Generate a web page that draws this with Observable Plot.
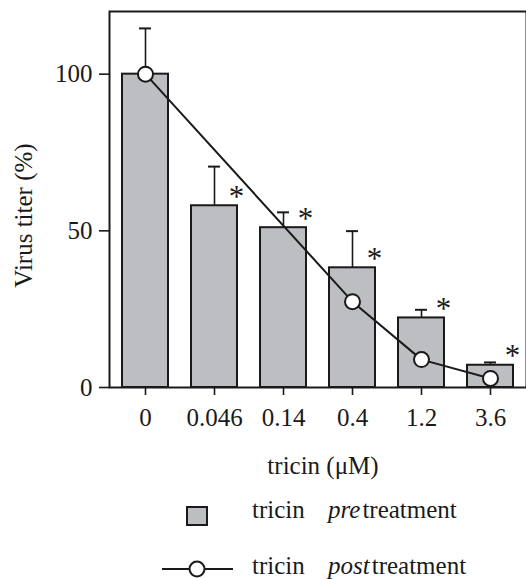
<!DOCTYPE html>
<html><head><meta charset="utf-8">
<script src="https://cdn.jsdelivr.net/npm/d3@7"></script>
<script src="https://cdn.jsdelivr.net/npm/@observablehq/plot@0.6"></script>
<style>
body{margin:0;background:#fff;font-family:"Liberation Serif","Times New Roman",serif;color:#1a1a1a;}
#chart svg{display:block;}
</style></head><body><div id="chart"></div><div id="legend"></div><script>
const concentrations = ["0","0.046","0.14","0.4","1.2","3.6"];
const preValues = [100,58,51,38.2,22.2,7.1];
const preErrorUpper = [114.6,70.5,55.9,49.9,24.8,8.0];
const significant = [false,true,true,true,true,true];
const postConcentrations = ["0","0.4","1.2","3.6"];
const postValues = [100,27.4,8.9,2.9];
const yTicks = [0,50,100];
const yLabel = "Virus titer (%)";
const xLabel = "tricin (\u03bcM)";

const pre = concentrations.map((c,i)=>({c, v:preValues[i], err:preErrorUpper[i], sig:significant[i]}));
const post = postConcentrations.map((c,i)=>({c, v:postValues[i]}));
const ink = "#1a1a1a";
const barFill = "#bdbec2";
const serif = "'Liberation Serif','Times New Roman',serif";

const chart = Plot.plot({
  width: 526, height: 487,
  marginLeft: 109, marginRight: 0, marginTop: 11, marginBottom: 100,
  style: {fontFamily: serif, color: ink, background: "white"},
  x: {type: "band", domain: concentrations, paddingInner: 0.34, paddingOuter: 0.17, axis: null},
  y: {domain: [0, 120], axis: null},
  marks: [
    Plot.ruleX(pre, {x: "c", y1: "v", y2: "err", stroke: ink, strokeWidth: 1.6}),
    Plot.tickY(pre, {x: "c", y: "err", insetLeft: 17, insetRight: 17, stroke: ink, strokeWidth: 2}),
    Plot.barY(pre, {x: "c", y: "v", fill: barFill, stroke: ink, strokeWidth: 2}),
    Plot.frame({stroke: ink, strokeWidth: 2}),
    Plot.line(post, {x: "c", y: "v", stroke: ink, strokeWidth: 2}),
    Plot.dot(post, {x: "c", y: "v", r: 7.5, fill: "white", stroke: ink, strokeWidth: 2}),
    Plot.text(pre.filter(d => d.sig), {x: "c", y: "v", text: () => "*", dx: 22, dy: -9, fontSize: 31, fill: ink}),
    Plot.axisY({ticks: yTicks, tickSize: 10, tickPadding: 7, fontSize: 25, label: null, strokeWidth: 1.6}),
    Plot.axisX({tickSize: 8, tickPadding: 13, fontSize: 25, label: null, strokeWidth: 1.6}),
    Plot.text([yLabel], {frameAnchor: "left", textAnchor: "middle", lineAnchor: "middle", dx: -86, dy: 16, rotate: -90, fontSize: 25, fill: ink}),
    Plot.text([xLabel], {frameAnchor: "bottom", textAnchor: "middle", lineAnchor: "middle", dx: 5, dy: 78, fontSize: 25, fill: ink})
  ]
});
document.getElementById("chart").appendChild(chart);

// legend
const lg = d3.select("#legend").append("svg").attr("width", 526).attr("height", 92)
  .style("display","block").style("font-family",serif).style("font-size","25px");
lg.append("rect").attr("x",187).attr("y",20).attr("width",20).attr("height",18)
  .attr("fill",barFill).attr("stroke",ink).attr("stroke-width",2);
const t1 = lg.append("text").attr("y",31).attr("fill",ink);
t1.append("tspan").attr("x",252).text("tricin");
t1.append("tspan").attr("x",328).style("font-style","italic").text("pre");
t1.append("tspan").attr("dx",2).text("treatment");
lg.append("line").attr("x1",162).attr("x2",233).attr("y1",82).attr("y2",82).attr("stroke",ink).attr("stroke-width",2);
lg.append("circle").attr("cx",197).attr("cy",82).attr("r",7.5).attr("fill","white").attr("stroke",ink).attr("stroke-width",2);
const t2 = lg.append("text").attr("y",87).attr("fill",ink);
t2.append("tspan").attr("x",252).text("tricin");
t2.append("tspan").attr("x",328).style("font-style","italic").text("post");
t2.append("tspan").attr("dx",2).text("treatment");
</script></body></html>
